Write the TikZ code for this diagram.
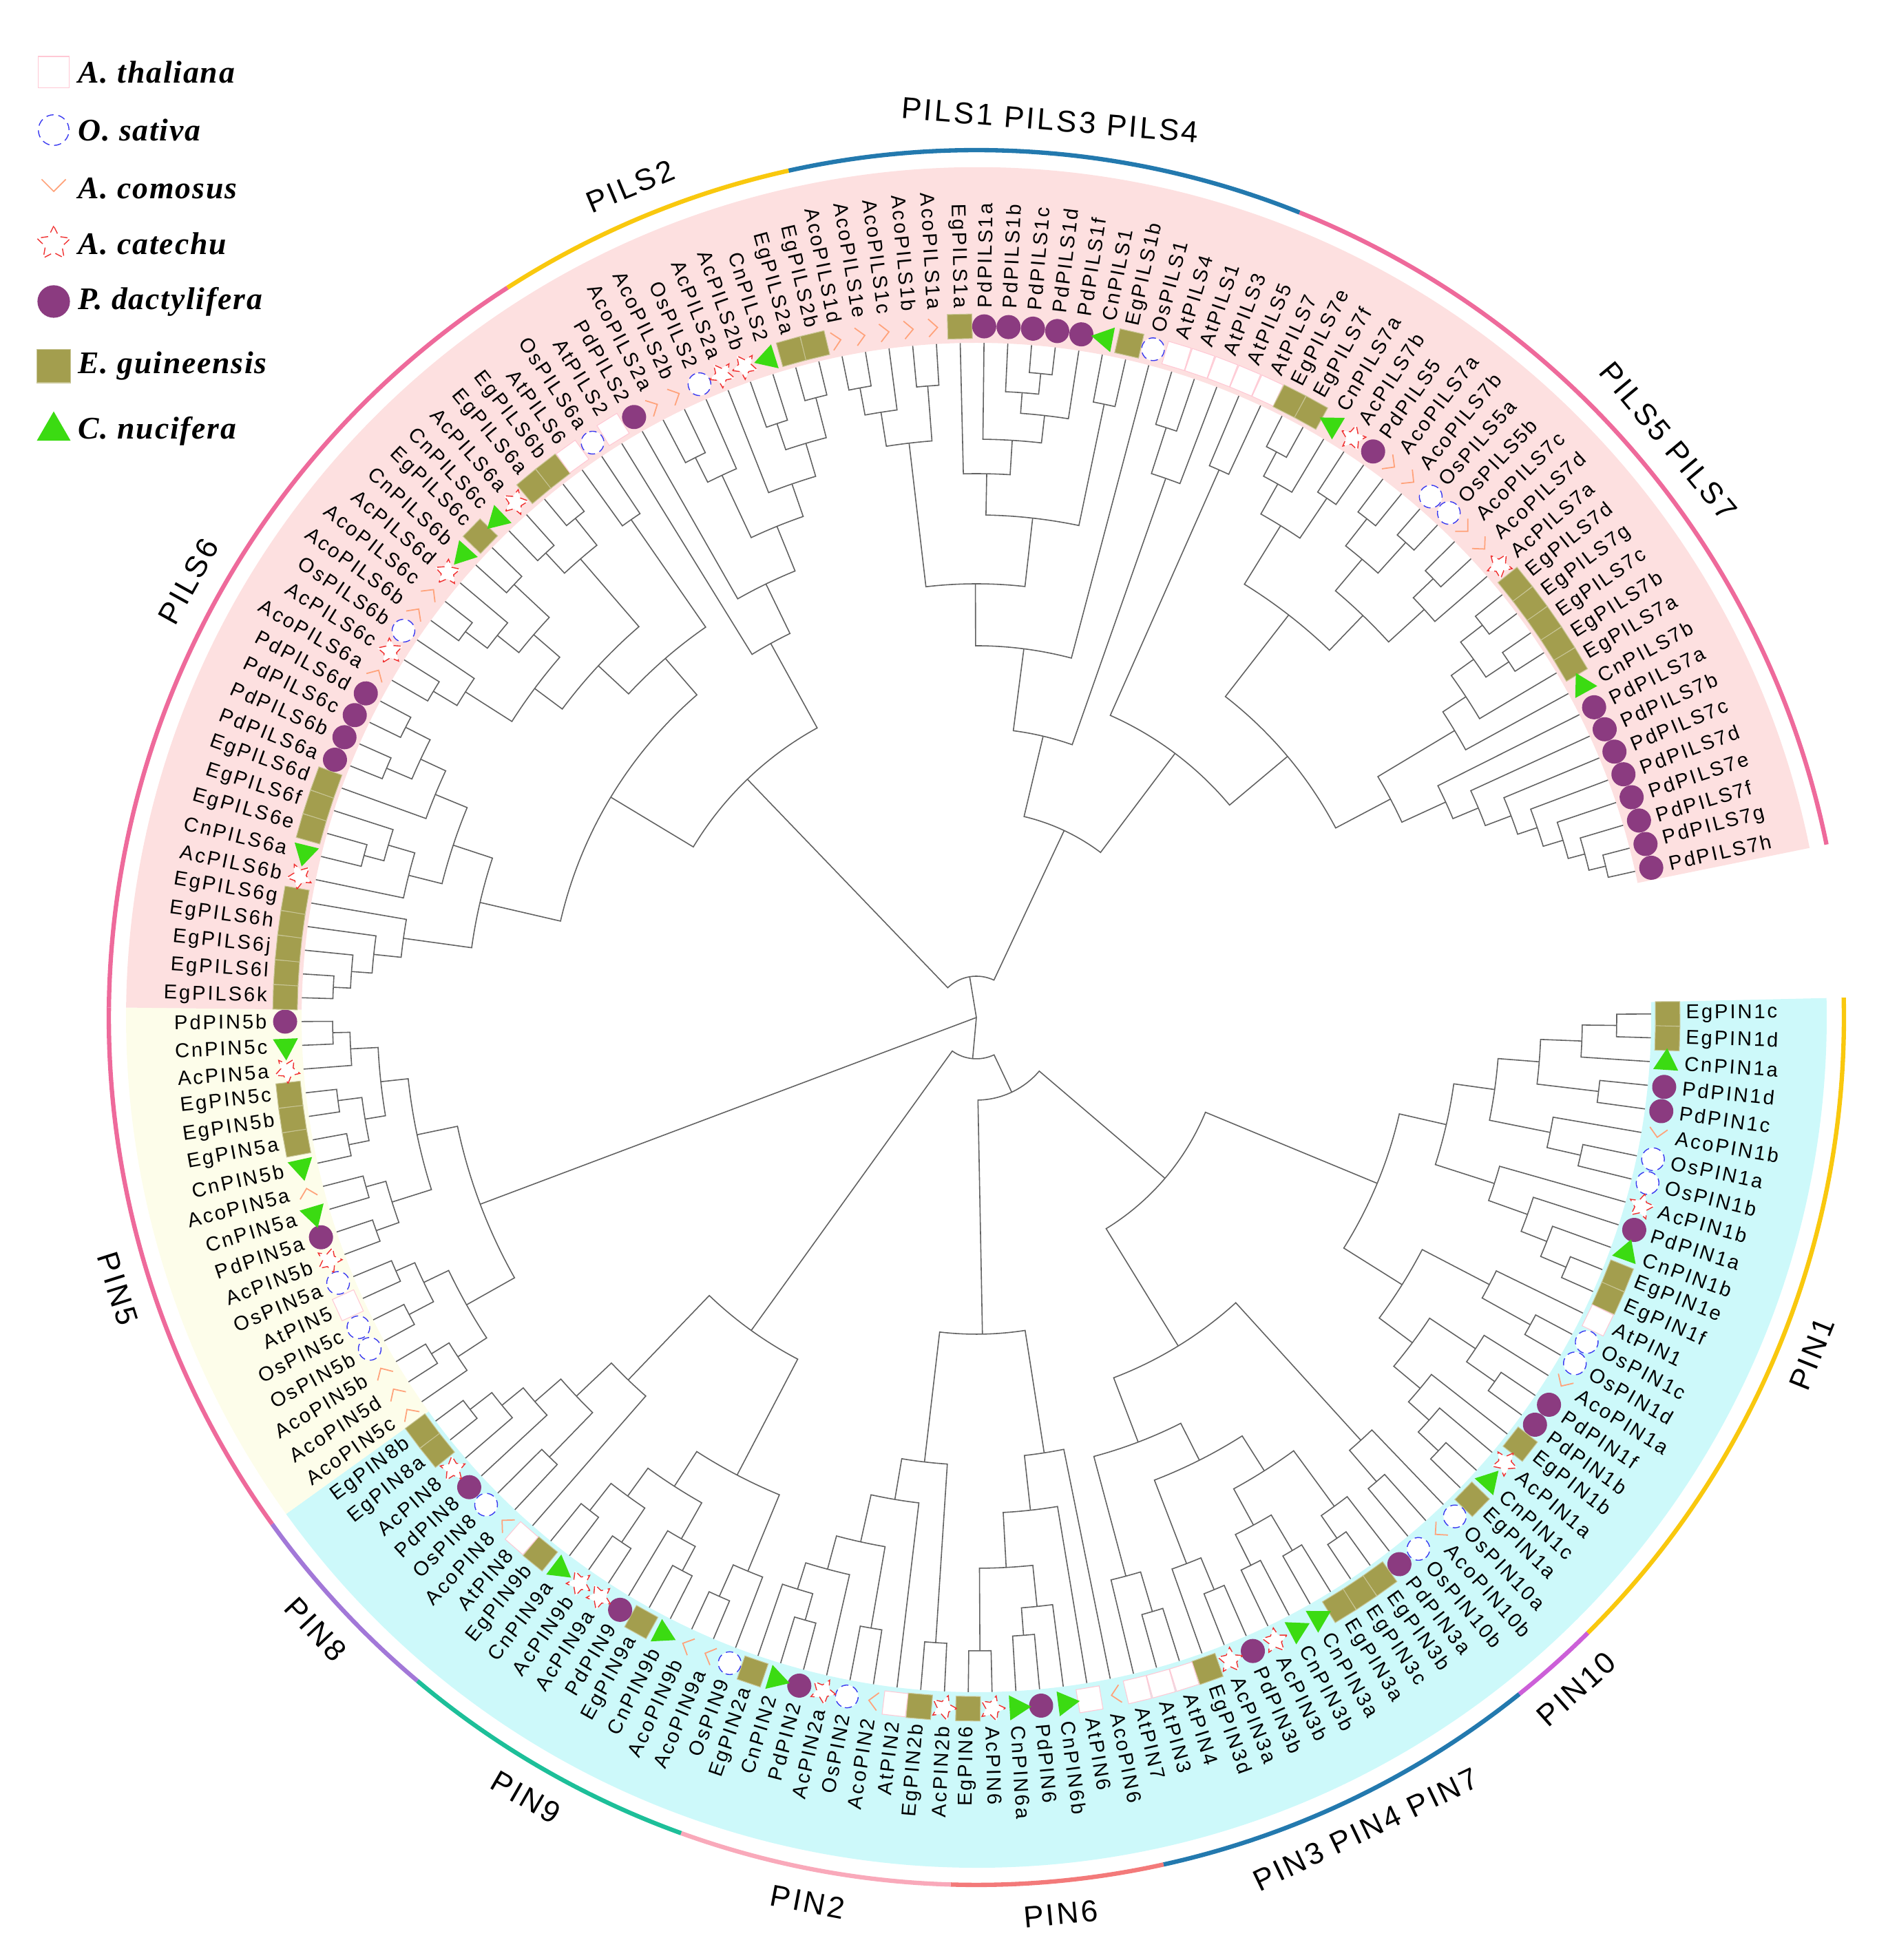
\documentclass[tikz,border=0pt]{standalone}
\usepackage{fontspec}
\setmainfont{Liberation Sans}
\newfontfamily\leaffont{Liberation Sans}[LetterSpace=10]
\newfontfamily\cladefont{Liberation Sans}[LetterSpace=8]
\newfontfamily\legfont{Liberation Serif}[LetterSpace=4]

\definecolor{pilsbg}{HTML}{FDE0E0}
\definecolor{pinbg}{HTML}{CDF9FA}
\definecolor{pinfivebg}{HTML}{FDFDEA}
\definecolor{pnkarc}{HTML}{EE6A9B}
\definecolor{yelarc}{HTML}{F9C80E}
\definecolor{bluarc}{HTML}{2379AE}
\definecolor{magarc}{HTML}{CC5FD8}
\definecolor{salarc}{HTML}{F37A7A}
\definecolor{lpkarc}{HTML}{F9A9BA}
\definecolor{tealarc}{HTML}{1DBF99}
\definecolor{purarc}{HTML}{A278D8}
\definecolor{pdcol}{HTML}{8B3B80}
\definecolor{egcol}{HTML}{A39E4E}
\definecolor{cncol}{HTML}{3BDB12}
\definecolor{oscol}{HTML}{3A3AF0}
\definecolor{accol}{HTML}{F03030}
\definecolor{acocol}{HTML}{FFA27A}
\definecolor{atline}{HTML}{FFC8D4}

\tikzset{
  pics/sym-At/.style={code={\draw[atline, fill=white, line width=.3pt] (-.17,-.17) rectangle (.17,.17);}},
  pics/sym-Os/.style={code={\draw[oscol, densely dashed, fill=white, line width=.4pt] (0,0) circle (.165);}},
  pics/sym-Aco/.style={code={\draw[acocol, line width=.5pt] (-.13,.1) -- (0,-.03) -- (.13,.1);}},
  pics/sym-Ac/.style={code={\draw[accol, densely dashed, fill=white, line width=.4pt]
      (90:.19) -- (126:.095) -- (162:.19) -- (198:.095) -- (234:.19) -- (270:.095)
      -- (306:.19) -- (342:.095) -- (18:.19) -- (54:.095) -- cycle;}},
  pics/sym-Pd/.style={code={\fill[pdcol] (0,0) circle (.175);}},
  pics/sym-Eg/.style={code={\draw[egcol!60!white, fill=egcol, line width=.3pt] (-.178,-.178) rectangle (.178,.178);}},
  pics/sym-Cn/.style={code={\fill[cncol] (90:.21) -- (210:.21) -- (330:.21) -- cycle;}},
}

% angle and radius of every tree node
\newcommand\setnode[3]{\expandafter\xdef\csname ta@#1\endcsname{#2}\expandafter\xdef\csname tr@#1\endcsname{#3}}
\def\getsp#1PI#2\relax{#1}
\newcommand\clade[4]{%
  \edef\cA{\csname ta@#3\endcsname}\edef\cB{\csname ta@#4\endcsname}%
  \edef\rA{\csname tr@#3\endcsname}\edef\rB{\csname tr@#4\endcsname}%
  \draw[treeline] (\cA:\rA) -- (\cA:#2) arc[start angle=\cA, end angle=\cB, radius=#2] -- (\cB:\rB);
  \pgfmathsetmacro\cM{(\cA+\cB)/2}%
  \setnode{#1}{\cM}{#2}}
\newcommand\band[3]{%
  \pgfmathsetmacro\bA{0.3-2.022*(#1)}\pgfmathsetmacro\bB{0.3-2.022*(#2)}%
  \fill[#3] (\bA:9.8) arc[start angle=\bA, end angle=\bB, radius=9.8] -- (\bB:12.35)
    arc[start angle=\bB, end angle=\bA, radius=12.35] -- cycle;}
\newcommand\cladearc[4]{%
  \pgfmathsetmacro\bA{0.3-2.022*(#1)}\pgfmathsetmacro\bB{0.3-2.022*(#2)}%
  \pgfmathsetmacro\bM{(\bA+\bB)/2}\pgfmathtruncatemacro\up{sin(\bM)>0}%
  \draw[grouparc, #3] (\bA:12.6) arc[start angle=\bA, end angle=\bB, radius=12.6];
  \ifnum\up=1 \node[grouplab, rotate=\bM-90] at (\bM:13.08) {#4};
  \else \node[grouplab, rotate=\bM+90] at (\bM:13.08) {#4};\fi}

\begin{document}
\begin{tikzpicture}[
  treeline/.style={draw=black!62, line width=0.45pt},
  leaflab/.style={inner sep=0pt, font=\leaffont\fontsize{8.3}{10}\selectfont},
  grouplab/.style={inner sep=0pt, font=\cladefont\fontsize{12.5}{14}\selectfont},
  grouparc/.style={line width=1.8pt},
  legtext/.style={inner sep=0pt, anchor=west, font=\legfont\bfseries\itshape\fontsize{13}{15}\selectfont},
]
\useasboundingbox (0,0) rectangle (27.25,28.47);

% legend
\foreach \spc/\txt/\y [count=\i] in {At/A. thaliana/27.42, Os/O. sativa/26.58, Aco/A. comosus/25.73,
    Ac/A. catechu/24.93, Pd/P. dactylifera/24.09, Eg/E. guineensis/23.15, Cn/C. nucifera/22.21}{
  \pic[scale=1.35] at (0.78,\y) {sym-\spc};
  \node[legtext] (leg\i) at (1.13,\y) {\txt};
}

\begin{scope}[shift={(14.18,13.69)}]
\band{-0.5}{71.5}{pinbg}
\band{71.5}{89.5}{pinfivebg}
\band{89.5}{172.5}{pilsbg}

\cladearc{-0.5}{22.5}{yelarc}{PIN1}
\cladearc{22.5}{25.5}{magarc}{PIN10}
\cladearc{25.5}{38.5}{bluarc}{PIN3 PIN4 PIN7}
\cladearc{38.5}{45.5}{salarc}{PIN6}
\cladearc{45.5}{54.5}{lpkarc}{PIN2}
\cladearc{54.5}{64.5}{tealarc}{PIN9}
\cladearc{64.5}{71.5}{purarc}{PIN8}
\cladearc{71.5}{89.5}{pnkarc}{PIN5}
\cladearc{89.5}{117.5}{pnkarc}{PILS6}
\cladearc{117.5}{127.5}{yelarc}{PILS2}
\cladearc{127.5}{144.5}{bluarc}{PILS1 PILS3 PILS4}
\cladearc{144.5}{172.5}{pnkarc}{PILS5 PILS7}

% leaves, clockwise from EgPIN1c
\foreach \nm [count=\kk from 0] in {EgPIN1c, EgPIN1d, CnPIN1a, PdPIN1d, PdPIN1c, AcoPIN1b, OsPIN1a, OsPIN1b,
    AcPIN1b, PdPIN1a, CnPIN1b, EgPIN1e, EgPIN1f, AtPIN1, OsPIN1c, OsPIN1d, AcoPIN1a, PdPIN1f, PdPIN1b,
    EgPIN1b, AcPIN1a, CnPIN1c, EgPIN1a, OsPIN10a, AcoPIN10b, OsPIN10b, PdPIN3a, EgPIN3b, EgPIN3c,
    EgPIN3a, CnPIN3a, CnPIN3b, AcPIN3b, PdPIN3b, AcPIN3a, EgPIN3d, AtPIN4, AtPIN3, AtPIN7, AcoPIN6,
    AtPIN6, CnPIN6b, PdPIN6, CnPIN6a, AcPIN6, EgPIN6, AcPIN2b, EgPIN2b, AtPIN2, AcoPIN2, OsPIN2,
    AcPIN2a, PdPIN2, CnPIN2, EgPIN2a, OsPIN9, AcoPIN9a, AcoPIN9b, CnPIN9b, EgPIN9a, PdPIN9, AcPIN9a,
    AcPIN9b, CnPIN9a, EgPIN9b, AtPIN8, AcoPIN8, OsPIN8, PdPIN8, AcPIN8, EgPIN8a, EgPIN8b, AcoPIN5c,
    AcoPIN5d, AcoPIN5b, OsPIN5b, OsPIN5c, AtPIN5, OsPIN5a, AcPIN5b, PdPIN5a, CnPIN5a, AcoPIN5a,
    CnPIN5b, EgPIN5a, EgPIN5b, EgPIN5c, AcPIN5a, CnPIN5c, PdPIN5b,
    EgPILS6k, EgPILS6l, EgPILS6j, EgPILS6h, EgPILS6g, AcPILS6b, CnPILS6a, EgPILS6e, EgPILS6f,
    EgPILS6d, PdPILS6a, PdPILS6b, PdPILS6c, PdPILS6d, AcoPILS6a, AcPILS6c, OsPILS6b, AcoPILS6b,
    AcoPILS6c, AcPILS6d, CnPILS6b, EgPILS6c, CnPILS6c, AcPILS6a, EgPILS6a, EgPILS6b, AtPILS6,
    OsPILS6a, AtPILS2, PdPILS2, AcoPILS2a, AcoPILS2b, OsPILS2, AcPILS2a, AcPILS2b, CnPILS2, EgPILS2a,
    EgPILS2b, AcoPILS1d, AcoPILS1e, AcoPILS1c, AcoPILS1b, AcoPILS1a, EgPILS1a, PdPILS1a, PdPILS1b,
    PdPILS1c, PdPILS1d, PdPILS1f, CnPILS1, EgPILS1b, OsPILS1, AtPILS4, AtPILS1, AtPILS3, AtPILS5,
    AtPILS7, EgPILS7e, EgPILS7f, CnPILS7a, AcPILS7b, PdPILS5, AcoPILS7a, AcoPILS7b, OsPILS5a,
    OsPILS5b, AcoPILS7c, AcoPILS7d, AcPILS7a, EgPILS7d, EgPILS7g, EgPILS7c, EgPILS7b, EgPILS7a,
    CnPILS7b, PdPILS7a, PdPILS7b, PdPILS7c, PdPILS7d, PdPILS7e, PdPILS7f, PdPILS7g, PdPILS7h}{
  \pgfmathsetmacro\ang{0.3-2.022*\kk}
  \setnode{\kk}{\ang}{9.8}
  \edef\spc{\expandafter\getsp\nm\relax}
  \pic[rotate=\ang] at (\ang:10.04) {sym-\spc};
  \pgfmathtruncatemacro\lf{cos(\ang)<0}
  \ifnum\lf=1 \node[leaflab, anchor=east, rotate=\ang+180] (lf\kk) at (\ang:10.3) {\nm};
  \else \node[leaflab, anchor=west, rotate=\ang] (lf\kk) at (\ang:10.3) {\nm};\fi
}

% PIN1, PIN10, PIN3/4/7
\clade{A1}{9.3}{0}{1}   \clade{A2}{8.8}{A1}{2}  \clade{A3}{9.1}{3}{4}   \clade{A4}{8.2}{A2}{A3}
\clade{A5}{9.0}{6}{7}   \clade{A6}{8.5}{5}{A5}  \clade{A7}{7.6}{A4}{A6} \clade{A8}{9.3}{11}{12}
\clade{A9}{8.9}{10}{A8} \clade{A10}{8.5}{9}{A9} \clade{A11}{7.9}{8}{A10} \clade{A12}{7.0}{A7}{A11}
\clade{A13}{9.2}{14}{15} \clade{A14}{8.4}{13}{A13} \clade{A15}{9.2}{17}{18} \clade{A16}{8.7}{16}{A15}
\clade{A17}{9.2}{21}{22} \clade{A18}{8.8}{20}{A17} \clade{A19}{8.4}{19}{A18} \clade{A20}{7.9}{A16}{A19}
\clade{A21}{7.3}{A14}{A20} \clade{A22}{6.3}{A12}{A21}
\clade{B1}{8.9}{24}{25} \clade{B2}{8.3}{23}{B1}
\clade{C1}{9.2}{27}{28} \clade{C2}{8.8}{26}{C1} \clade{C3}{9.0}{29}{30} \clade{C4}{8.9}{31}{32}
\clade{C5}{8.4}{C3}{C4} \clade{C6}{7.8}{C2}{C5} \clade{C7}{9.0}{33}{34} \clade{C8}{8.5}{C7}{35}
\clade{C9}{7.2}{C6}{C8} \clade{C10}{9.0}{36}{37} \clade{C11}{8.4}{C10}{38} \clade{C12}{6.6}{C9}{C11}
\clade{C13}{5.6}{B2}{C12} \clade{D1}{3.6}{A22}{C13}
% PIN6, PIN2
\clade{E1}{9.2}{44}{45} \clade{E2}{9.0}{42}{43} \clade{E3}{8.6}{41}{E2} \clade{E4}{8.0}{E3}{E1}
\clade{E5}{7.2}{40}{E4} \clade{E6}{6.4}{39}{E5}
\clade{F1}{9.1}{46}{47} \clade{F2}{9.0}{49}{50} \clade{F3}{9.1}{52}{53} \clade{F4}{8.7}{F3}{54}
\clade{F5}{8.3}{51}{F4} \clade{F6}{7.8}{F2}{F5} \clade{F7}{7.1}{48}{F6} \clade{F8}{6.5}{F1}{F7}
\clade{G1}{4.6}{E6}{F8} \clade{X}{1.2}{D1}{G1}
% PIN9, PIN8
\clade{H1}{9.2}{56}{57} \clade{H2}{8.7}{55}{H1} \clade{H3}{9.1}{58}{59} \clade{H4}{8.7}{H3}{60}
\clade{H5}{9.2}{61}{62} \clade{H6}{9.1}{63}{64} \clade{H7}{8.6}{H5}{H6} \clade{H8}{8.1}{H4}{H7}
\clade{H9}{7.5}{H2}{H8}
\clade{I1}{9.3}{70}{71} \clade{I2}{8.9}{69}{I1} \clade{I3}{8.5}{68}{I2} \clade{I4}{8.9}{66}{67}
\clade{I5}{8.0}{I4}{I3} \clade{I6}{7.3}{65}{I5}
\clade{J1}{5.6}{H9}{I6} \clade{J3}{0.6}{X}{J1}
% PIN5
\clade{K1}{9.35}{88}{89} \clade{K2}{9.1}{87}{K1} \clade{K3}{9.35}{85}{86} \clade{K4}{9.3}{83}{84}
\clade{K5}{9.0}{K4}{K3} \clade{K6}{8.7}{K5}{K2} \clade{K7}{9.2}{81}{82} \clade{K8}{9.25}{79}{80}
\clade{K9}{8.9}{K8}{K7} \clade{K10}{8.3}{K9}{K6} \clade{K11}{9.2}{77}{78} \clade{K12}{9.3}{75}{76}
\clade{K13}{8.9}{K12}{K11} \clade{K14}{9.3}{73}{74} \clade{K15}{9.0}{72}{K14} \clade{K16}{8.5}{K15}{K13}
\clade{K17}{7.7}{K16}{K10}
% PILS6, PILS2
\clade{L1}{9.35}{90}{91} \clade{L2}{9.1}{L1}{92} \clade{L3}{8.8}{L2}{93} \clade{L4}{8.4}{L3}{94}
\clade{L5}{9.2}{96}{97} \clade{L6}{8.9}{L5}{98} \clade{L7}{8.5}{95}{L6} \clade{L8}{9.3}{100}{101}
\clade{L9}{9.3}{102}{103} \clade{L10}{8.9}{L8}{L9} \clade{L11}{8.5}{99}{L10} \clade{L12}{8.0}{L7}{L11}
\clade{L13}{7.4}{L4}{L12}
\clade{M1}{9.2}{104}{105} \clade{M2}{8.8}{M1}{106} \clade{M3}{9.3}{107}{108} \clade{M4}{8.9}{M3}{109}
\clade{M5}{9.2}{110}{111} \clade{M6}{8.5}{M4}{M5} \clade{M7}{8.0}{M2}{M6} \clade{M8}{9.2}{112}{113}
\clade{M9}{9.3}{114}{115} \clade{M10}{8.8}{M8}{M9} \clade{M11}{7.5}{M7}{M10} \clade{M12}{8.8}{116}{117}
\clade{M13}{6.9}{M11}{M12} \clade{N1}{6.2}{L13}{M13}
\clade{P1}{9.3}{126}{127} \clade{P2}{9.1}{124}{125} \clade{P3}{8.7}{P2}{P1} \clade{P4}{8.2}{123}{P3}
\clade{P5}{9.1}{120}{121} \clade{P6}{8.7}{P5}{122} \clade{P7}{7.7}{P6}{P4} \clade{P8}{7.0}{119}{P7}
\clade{P9}{6.2}{118}{P8} \clade{Q1}{4.8}{N1}{P9}
% PILS1/3/4
\clade{R1}{9.3}{128}{129} \clade{R2}{8.9}{R1}{130} \clade{R3}{9.2}{131}{132} \clade{R4}{8.4}{R2}{R3}
\clade{R5}{9.4}{136}{137} \clade{R6}{9.1}{135}{R5} \clade{R7}{8.8}{R6}{138} \clade{R8}{8.4}{134}{R7}
\clade{R9}{7.9}{133}{R8} \clade{R11}{9.1}{139}{140} \clade{R10}{7.3}{R9}{R11} \clade{R12}{6.3}{R4}{R10}
\clade{R13}{5.4}{R12}{141}
\clade{S1}{9.0}{142}{143} \clade{S2}{8.3}{S1}{144} \clade{S3}{4.2}{R13}{S2}
% PILS5/7
\clade{T1}{8.7}{145}{146} \clade{T2}{9.3}{147}{148} \clade{T3}{8.9}{T2}{149} \clade{T4}{9.1}{150}{151}
\clade{T5}{8.4}{T3}{T4} \clade{T6}{9.2}{152}{153} \clade{T7}{9.3}{154}{155} \clade{T8}{8.7}{T6}{T7}
\clade{T9}{9.2}{156}{157} \clade{T10}{8.8}{T9}{158} \clade{T11}{8.1}{T8}{T10} \clade{T12}{7.4}{T5}{T11}
\clade{T13}{9.3}{159}{160} \clade{T14}{9.3}{161}{162} \clade{T15}{8.9}{T13}{T14} \clade{T16}{8.5}{T15}{163}
\clade{T17}{8.1}{T16}{164}
\clade{U1}{9.4}{171}{172} \clade{U2}{9.15}{170}{U1} \clade{U3}{8.9}{169}{U2} \clade{U4}{8.6}{168}{U3}
\clade{U5}{8.3}{167}{U4} \clade{U6}{7.9}{166}{U5} \clade{U7}{7.5}{165}{U6} \clade{U8}{6.8}{T17}{U7}
\clade{U9}{5.9}{T12}{U8} \clade{U10}{4.8}{T1}{U9}
\clade{V1}{3.0}{S3}{U10} \clade{V2}{0.6}{Q1}{V1}

% root
\foreach \c in {V2,J3,K17}{
  \edef\cA{\csname ta@\c\endcsname}\edef\rA{\csname tr@\c\endcsname}
  \draw[treeline] (0,0) -- (\cA:\rA);
}
\end{scope}
\end{tikzpicture}
\end{document}
